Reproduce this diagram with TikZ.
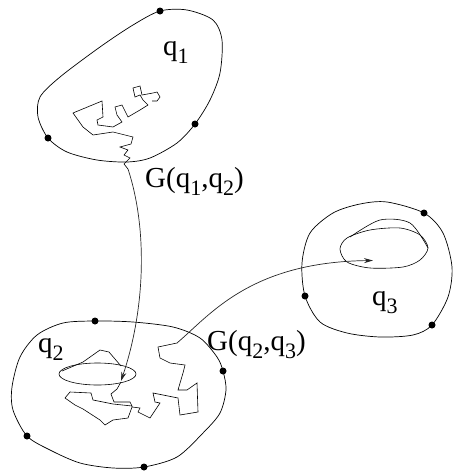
\documentclass[tikz,border=0pt]{standalone}
\usepackage{fontspec}
\setmainfont{Liberation Serif}
\usetikzlibrary{arrows.meta}
\newcommand{\sub}[1]{\raisebox{-0.28em}{\fontsize{22}{22}\selectfont #1}}
\tikzset{
  blob/.style={black, line width=0.7pt},
  walk/.style={black, line width=0.6pt, line join=miter},
  edge/.style={black!85, line width=0.7pt, -{Stealth[length=9pt,width=5pt]}},
  lab/.style={font=\fontsize{29}{32}\selectfont, inner sep=0pt, anchor=base west},
}
\begin{document}
\begin{tikzpicture}[x=1pt, y=-1pt]
    \useasboundingbox (0,0) rectangle (453,474);

    % the three regions
    \draw[blob] plot[smooth cycle] coordinates {(160,11) (187,10) (213,20) (222,40) (220,73) (210,100) (195,124) (177,143) (150,158) (127,162) (97,160) (67,152) (48,138) (38,117) (40,97) (60,77) (100,47) (133,25)};
    \draw[blob] plot[smooth cycle] coordinates {(95,321) (133,322) (173,327) (200,338) (217,357) (223,371) (226,390) (220,413) (203,433) (177,457) (144,467) (113,468) (80,463) (50,450) (27,436) (13,410) (12,387) (20,357) (37,335) (63,323)};
    \draw[blob] plot[smooth cycle] coordinates {(387,202) (424,213) (443,233) (452,267) (448,297) (432,325) (413,335) (380,337) (347,333) (320,322) (305,296) (302,263) (310,233) (333,213) (360,204)};

    \fill (160,11) circle (3.5) (195,124) circle (3.5) (48,138) circle (3.5);
    \fill (95,321) circle (3.5) (223,371) circle (3.5) (144,467) circle (3.5) (27,436) circle (3.5);
    \fill (424,213) circle (3.5) (305,296) circle (3.5) (432,325) circle (3.5);

    % paths inside q1
    \draw[walk] (128,169) -- (124,164) -- (130,158) -- (124,155) -- (128,150) -- (120,147) -- (131,144) -- (133,137) -- (113,132) -- (93,135) -- (83,127) -- (73,113) -- (102,101) -- (103,117) -- (97,120) -- (98,125) -- (113,127) -- (122,122) -- (117,115) -- (115,107) -- (122,105) -- (125,111) -- (128,117) -- (140,110) -- (148,105) -- (143,100) -- (140,95) -- (135,97) -- (133,88) -- (140,86) -- (142,95) -- (153,93) -- (157,92) -- (160,97) -- (157,101) -- (152,101);

    % paths inside q2
    \draw[walk] (97.5,374) ellipse [x radius=38.5, y radius=11];
    \draw[walk] (62,371) -- (83,362) -- (100,350) -- (109,352) -- (121,366);
    \draw[walk] (121,382) -- (117,389) -- (111,394) -- (114,402) -- (130,402) -- (132,406) -- (113,404) -- (93,400) -- (91,393) -- (70,392) -- (65,398) -- (75,405) -- (83,409) -- (100,420) -- (105,425) -- (113,420) -- (128,418) -- (132,407) -- (140,408) -- (138,412) -- (150,418) -- (160,403) -- (155,402) -- (153,393) -- (178,398) -- (180,415) -- (198,412) -- (197,383) -- (187,390) -- (178,390) -- (183,373) -- (185,365) -- (170,363) -- (160,358) -- (158,347) -- (177,343);

    % path inside q3
    \draw[walk] plot[smooth cycle] coordinates {(428,248) (420,260) (403,267) (370,268) (347,262) (340,249) (347,238) (370,230) (400,228) (420,235)};
    \draw[walk] plot[smooth] coordinates {(350,237) (380,220) (410,223) (428,248)};

    % connections
    \coordinate (s12) at (128,169);
    \coordinate (e12) at (121,381);
    \coordinate (s23) at (177,343);
    \coordinate (e23) at (373,260.5);
    \draw[edge] (s12) .. controls (148,230) and (145,310) .. (e12);
    \draw[edge] (s23) .. controls (210,315) and (250,262) .. (e23);

    \node[lab] (q1) at (163,55) {q\sub{1}};
    \node[lab] (q2) at (38,352) {q\sub{2}};
    \node[lab] (q3) at (372,305) {q\sub{3}};
    \node[lab] (g12) at (145,187) {G(q\sub{1},q\sub{2})};
    \node[lab] (g23) at (207,350) {G(q\sub{2},q\sub{3})};
\end{tikzpicture}
\end{document}
